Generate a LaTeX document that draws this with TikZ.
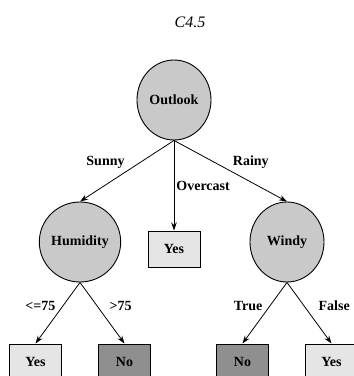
\documentclass[tikz,border=0pt]{standalone}
\usepackage{fontspec}
\setmainfont{Liberation Serif}
\usepackage{tikz}
\usetikzlibrary{arrows.meta,shapes.geometric,positioning}
\usepackage{xcolor}
\definecolor{testgray}{gray}{0.79}
\definecolor{yesgray}{gray}{0.90}
\definecolor{nogray}{gray}{0.56}

\begin{document}
\begin{tikzpicture}[
    x=1pt, y=-1pt,
    grow=down,
    level 1/.style={level distance=142pt, sibling distance=103pt},
    level 2/.style={level distance=120pt, sibling distance=89pt},
    parent anchor=south, child anchor=north,
    edge from parent/.style={draw, line width=0.8pt, -{Stealth[length=8pt,width=5.5pt]}},
    test/.style={ellipse, draw, line width=0.9pt, fill=testgray, minimum width=74pt, minimum height=80pt, inner sep=0pt},
    yesleaf/.style={rectangle, draw, line width=1pt, fill=yesgray, minimum width=52pt, minimum height=36pt},
    noleaf/.style={rectangle, draw, line width=1pt, fill=nogray, minimum width=52pt, minimum height=36pt},
    lbl/.style={inner sep=2pt}
]
    \useasboundingbox (0,0) rectangle (354,376);
    \node[font=\fontsize{16}{18}\selectfont\itshape] (title) at (190,22) {C4.5};
    \begin{scope}[font=\fontsize{14}{16}\selectfont\bfseries]
    \node[test] (outlook) at (174,100) {Outlook}
        child[xshift=9pt] {node[test] (humidity) {Humidity}
            child {node[yesleaf] (hyes) {Yes}
                edge from parent node[lbl, above left] {<=75}}
            child {node[noleaf] (hno) {No}
                edge from parent node[lbl, above right, xshift=5pt] {>75}}
            edge from parent node[lbl, above left] {Sunny}
        }
        child[yshift=-7pt] {node[yesleaf] (oyes) {Yes}
            edge from parent node[lbl, right] {Overcast}
        }
        child[xshift=10pt] {node[test] (windy) {Windy}
            child {node[noleaf] (wno) {No}
                edge from parent node[lbl, above left] {True}}
            child {node[yesleaf] (wyes) {Yes}
                edge from parent node[lbl, above right, xshift=7pt] {False}}
            edge from parent node[lbl, above right] {Rainy}
        };
    \end{scope}
\end{tikzpicture}
\end{document}
